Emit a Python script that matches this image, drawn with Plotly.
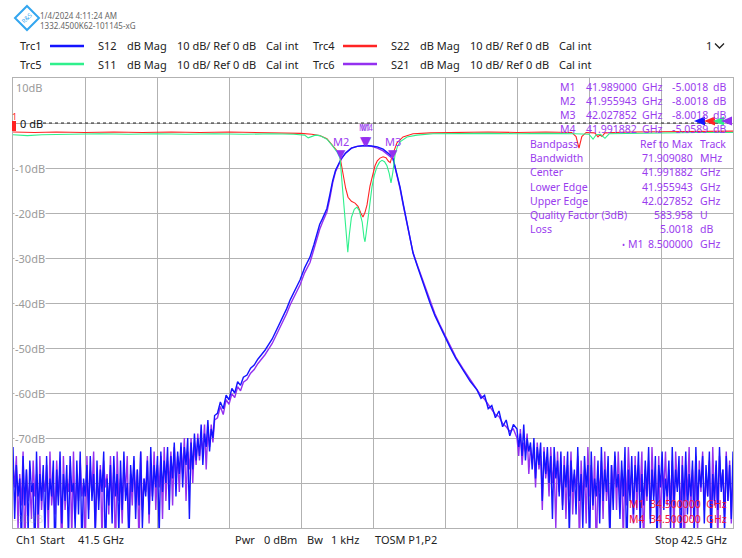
import numpy as np
import plotly.graph_objects as go

# sweep 41.5 .. 42.5 GHz, 10 dB/div, ref 0 dB
f_start, f_stop = 41.5, 42.5
y_top, y_bottom = 10, -90
y_ticks = [10, -10, -20, -30, -40, -50, -60, -70, -90]

# noise floor sweep points (left / right of the filter)
f_noise_left = np.linspace(41.5, 41.78, 121)
f_noise_right = np.linspace(42.2, 42.5, 129)

# S12 (Trc1)
s12_noise_left = [
    -72, -88, -76, -83, -79, -94, -74, -85, -77, -91,
    -75, -82, -80, -96, -73, -87, -78, -84, -76, -92,
    -74, -86, -79, -83, -75, -98, -77, -85, -73, -89,
    -78, -84, -76, -93, -74, -82, -80, -90, -75, -87,
    -73, -95, -79, -83, -76, -88, -74, -84, -78, -92,
    -75, -86, -77, -82, -73, -97, -79, -85, -76, -89,
    -74, -83, -78, -91, -75, -86, -73, -84, -80, -94,
    -76, -82, -74, -88, -77, -85, -73, -90, -79, -83,
    -75, -87, -72, -84, -76, -81, -74, -92, -73, -82,
    -75, -80, -72, -86, -74, -79, -71, -83, -73, -78,
    -71, -81, -72, -76, -70, -88, -71, -77, -69, -75,
    -70, -74, -67, -76, -69, -72, -66, -73, -68, -70,
    -65,
]
f_skirt = [
    41.784, 41.788, 41.792, 41.796, 41.800, 41.804, 41.808, 41.812, 41.816, 41.820,
    41.825, 41.830, 41.835, 41.840, 41.845, 41.850, 41.860, 41.870, 41.880, 41.885,
    41.890, 41.8986, 41.905, 41.9125, 41.918, 41.9222, 41.926, 41.930, 41.936, 41.940,
    41.944, 41.948, 41.952, 41.956, 41.962, 41.970, 41.978, 41.989, 41.998, 42.006,
    42.014, 42.020, 42.025, 42.028, 42.032, 42.0375, 42.042, 42.0472, 42.051, 42.0556,
    42.062, 42.0681, 42.074, 42.0792, 42.086, 42.0931, 42.100, 42.1069, 42.115, 42.125,
    42.135, 42.1444, 42.150, 42.155, 42.160, 42.165, 42.170, 42.175, 42.180, 42.185,
    42.190, 42.195,
]
s12_skirt = [
    -64.5, -62.0, -63.5, -60.5, -61.5, -59.0, -60.0, -57.5, -58.3, -56.5,
    -56.0, -54.5, -53.8, -52.5, -51.6, -50.5, -48.0, -44.8, -41.3, -39.3,
    -37.8, -34.9, -32.2, -29.8, -27.0, -24.4, -22.5, -21.2, -19.0, -16.0,
    -12.8, -10.5, -9.0, -7.9, -6.7, -5.6, -5.2, -5.0, -5.1, -5.3,
    -5.8, -6.5, -7.2, -8.0, -10.5, -14.2, -18.0, -22.2, -25.5, -28.9,
    -32.0, -34.9, -37.6, -40.0, -42.8, -45.3, -47.6, -49.8, -52.3, -54.9,
    -57.4, -59.3, -61.2, -60.5, -63.5, -62.8, -65.5, -64.0, -67.5, -66.0,
    -69.5, -67.0,
]
s12_noise_right = [
    -68, -72, -69, -74, -67, -75, -70, -73, -71, -77,
    -70, -79, -72, -76, -71, -84, -73, -78, -72, -80,
    -74, -88, -72, -79, -75, -83, -73, -86, -76, -81,
    -73, -92, -75, -82, -77, -87, -72, -84, -78, -90,
    -74, -81, -76, -95, -73, -85, -79, -83, -75, -89,
    -72, -84, -77, -82, -74, -93, -76, -86, -73, -81,
    -78, -88, -75, -83, -72, -97, -77, -84, -74, -87,
    -76, -82, -73, -91, -78, -85, -75, -83, -72, -89,
    -77, -84, -74, -94, -76, -81, -73, -86, -79, -83,
    -75, -90, -72, -85, -77, -82, -74, -96, -76, -84,
    -73, -87, -78, -83, -75, -92, -72, -85, -77, -81,
    -74, -89, -76, -83, -73, -95, -78, -84, -75, -86,
    -72, -82, -77, -91, -74, -84, -76, -88, -73,
]

# S21 (Trc6)
s21_noise_left = [
    -76, -81, -74, -90, -78, -85, -73, -96, -77, -84,
    -80, -88, -75, -83, -78, -93, -74, -86, -79, -82,
    -76, -91, -73, -85, -80, -87, -75, -83, -77, -97,
    -74, -86, -79, -82, -76, -92, -73, -88, -78, -84,
    -75, -83, -80, -95, -74, -86, -77, -82, -73, -90,
    -79, -84, -76, -93, -75, -81, -78, -87, -74, -85,
    -77, -96, -73, -84, -79, -89, -76, -82, -74, -91,
    -78, -85, -75, -83, -77, -94, -73, -86, -79, -82,
    -74, -89, -77, -83, -73, -86, -76, -81, -74, -88,
    -72, -84, -75, -80, -73, -85, -72, -79, -74, -82,
    -72, -78, -70, -84, -73, -77, -70, -80, -71, -76,
    -69, -75, -70, -73, -67, -77, -68, -72, -67, -71,
    -66,
]
s21_skirt = [
    -65.5, -63.0, -64.8, -61.5, -62.5, -60.2, -61.0, -58.6, -59.5, -57.6,
    -57.0, -55.6, -54.8, -53.5, -52.6, -51.5, -49.0, -45.8, -42.4, -40.4,
    -38.9, -36.0, -33.3, -31.0, -28.0, -25.5, -23.6, -22.0, -19.8, -16.8,
    -13.3, -10.8, -9.2, -8.0, -6.6, -5.6, -5.2, -5.0, -5.2, -5.6,
    -6.2, -6.9, -7.5, -8.0, -10.8, -14.5, -18.3, -22.4, -25.6, -28.8,
    -31.8, -34.6, -37.3, -39.7, -42.4, -44.9, -47.2, -49.5, -52.0, -54.6,
    -57.0, -59.0, -60.6, -61.4, -62.6, -63.6, -64.8, -65.2, -66.8, -67.5,
    -68.5, -68.0,
]
s21_noise_right = [
    -70, -74, -68, -76, -71, -73, -69, -78, -72, -75,
    -73, -81, -71, -77, -74, -86, -72, -79, -75, -83,
    -72, -80, -76, -90, -73, -82, -77, -85, -74, -88,
    -76, -83, -73, -87, -78, -81, -74, -94, -75, -84,
    -77, -89, -72, -83, -76, -86, -74, -97, -78, -82,
    -75, -88, -73, -84, -79, -91, -76, -82, -74, -86,
    -73, -83, -77, -93, -75, -85, -72, -81, -78, -89,
    -74, -86, -76, -82, -73, -95, -77, -84, -75, -88,
    -72, -83, -78, -87, -74, -90, -76, -82, -73, -85,
    -77, -84, -75, -92, -73, -81, -78, -86, -74, -98,
    -76, -83, -72, -88, -77, -84, -74, -91, -75, -82,
    -73, -86, -78, -83, -75, -90, -72, -85, -76, -93,
    -74, -81, -77, -87, -73, -84, -75, -89, -76,
]

# S22 (Trc4)
f_s22 = [
    41.500, 41.530, 41.560, 41.600, 41.640, 41.680, 41.720, 41.760, 41.800, 41.840,
    41.880, 41.900, 41.915, 41.926, 41.936, 41.943, 41.950, 41.9542, 41.9583, 41.962,
    41.9653, 41.970, 41.975, 41.9792, 41.983, 41.9861, 41.989, 41.9917, 41.9958, 42.000,
    42.0028, 42.006, 42.0097, 42.014, 42.018, 42.0215, 42.024, 42.0264, 42.030, 42.0333,
    42.0417, 42.0556, 42.080, 42.120, 42.160, 42.200, 42.240, 42.276, 42.282, 42.2861,
    42.290, 42.296, 42.308, 42.3125, 42.315, 42.3181, 42.322, 42.360, 42.400, 42.440,
    42.500,
]
s22 = [
    -2.0, -2.1, -2.0, -2.1, -2.0, -2.1, -2.0, -2.1, -2.0, -2.1,
    -2.2, -2.3, -2.5, -2.8, -3.5, -4.8, -6.2, -7.6, -11.5, -14.5,
    -16.5, -17.4, -17.8, -18.5, -20.0, -20.9, -19.8, -18.2, -14.0, -11.0,
    -9.5, -8.4, -7.8, -7.5, -7.7, -8.5, -8.8, -7.4, -5.6, -4.4,
    -3.1, -2.4, -2.2, -2.1, -2.0, -2.1, -2.0, -2.1, -3.0, -5.6,
    -3.0, -2.1, -2.2, -3.1, -2.6, -3.0, -2.2, -2.0, -1.9, -1.9,
    -1.8,
]

# S11 (Trc5)
f_s11 = [
    41.500, 41.520, 41.540, 41.580, 41.620, 41.660, 41.700, 41.740, 41.780, 41.820,
    41.860, 41.890, 41.905, 41.910, 41.915, 41.920, 41.926, 41.936, 41.943, 41.950,
    41.9542, 41.9569, 41.960, 41.9625, 41.965, 41.967, 41.970, 41.974, 41.9778, 41.981,
    41.985, 41.9875, 41.9889, 41.9905, 41.9931, 41.996, 41.9986, 42.002, 42.0056, 42.009,
    42.0125, 42.016, 42.0194, 42.0225, 42.025, 42.0275, 42.0306, 42.034, 42.0375, 42.0472,
    42.0611, 42.0833, 42.120, 42.160, 42.200, 42.240, 42.280, 42.300, 42.3056, 42.310,
    42.316, 42.3222, 42.328, 42.360, 42.400, 42.450, 42.500,
]
s11 = [
    -2.6, -2.8, -2.6, -2.5, -2.4, -2.5, -2.4, -2.5, -2.4, -2.5,
    -2.4, -2.5, -2.7, -3.3, -3.0, -2.7, -2.8, -3.6, -4.9, -6.4,
    -7.8, -13.0, -19.5, -24.5, -28.7, -25.0, -21.0, -19.2, -18.7, -19.5,
    -22.0, -25.5, -26.4, -24.5, -20.8, -17.0, -14.2, -11.5, -9.7, -8.7,
    -8.3, -8.6, -9.5, -11.2, -13.3, -11.0, -7.0, -5.2, -4.2, -3.1,
    -2.7, -2.4, -2.3, -2.3, -2.4, -2.3, -2.4, -2.5, -3.6, -2.6,
    -2.5, -3.4, -2.4, -2.3, -2.2, -2.1, -2.1,
]

# markers on Trc6
marker_names = ["M1", "M2", "M3", "M4"]
marker_freq = [41.989000, 41.955943, 42.027852, 41.991882]
marker_db = [-5.0018, -8.0018, -8.0018, -5.0589]

bp_labels = ["Bandpass", "Bandwidth", "Center", "Lower Edge", "Upper Edge",
             "Quality Factor (3dB)", "Loss"]
bp_values = ["Ref to Max", "71.909080", "41.991882", "41.955943", "42.027852",
             "583.958", "5.0018"]
bp_units = ["Track", "MHz", "GHz", "GHz", "GHz", "U", "dB"]

# header legend
trc_names = ["Trc1", "Trc4", "Trc5", "Trc6"]
trc_params = ["S12", "S22", "S11", "S21"]

BLUE = "#1414ff"
RED = "#ff2424"
GREEN = "#2ff08c"
PURPLE = "#9430f0"
MTEXT = "#9a3cee"
GRID = "#b2b2b2"
FONT = "Noto Sans, Open Sans, sans-serif"
trc_colors = [BLUE, RED, GREEN, PURPLE]


def px(x):
    return (x - 13) / 720


def py(y):
    return (528 - y) / 450


annotations = []
shapes = []


def txt(x, y, s, color="#222222", size=11, anchor="left", **kw):
    annotations.append(dict(x=px(x), y=py(y), xref="paper", yref="paper", text=s,
                            showarrow=False, xanchor=anchor, yanchor="middle",
                            font=dict(family=FONT, size=size, color=color), **kw))


fig = go.Figure()

f_all = np.concatenate([f_noise_left, f_skirt, f_noise_right])
fig.add_trace(go.Scatter(x=f_all, y=s21_noise_left + s21_skirt + s21_noise_right,
                         mode="lines", line=dict(color=PURPLE, width=1.4)))
fig.add_trace(go.Scatter(x=f_all, y=s12_noise_left + s12_skirt + s12_noise_right,
                         mode="lines", line=dict(color=BLUE, width=1.4)))
fig.add_trace(go.Scatter(x=f_s22, y=s22, mode="lines", line=dict(color=RED, width=1.1)))
fig.add_trace(go.Scatter(x=f_s11, y=s11, mode="lines", line=dict(color=GREEN, width=1.1)))

# header
shapes.append(dict(type="path", xref="paper", yref="paper",
                   path=f"M {px(27)},{py(6)} L {px(39)},{py(18)} L {px(27)},{py(30)} L {px(15)},{py(18)} Z",
                   line=dict(color="#33a6ef", width=2)))
txt(27, 18, "R&S", "#33a6ef", 6, "center", textangle=-45)
txt(38, 15, "1/4/2024 4:11:24 AM", "#666666", 8)
txt(38, 26, "1332.4500K62-101145-xG", "#666666", 8)

rows = [(0, 20, 46), (1, 313, 46), (2, 20, 64), (3, 313, 64)]
for i, x0, y0 in rows:
    txt(x0 - 2, y0, trc_names[i])
    shapes.append(dict(type="line", xref="paper", yref="paper", x0=px(x0 + 30), x1=px(x0 + 64),
                       y0=py(y0), y1=py(y0), line=dict(color=trc_colors[i], width=2.5)))
    txt(x0 + 76, y0, trc_params[i])
    txt(x0 + 105, y0, "dB Mag")
    txt(x0 + 155, y0, "10 dB/ Ref 0 dB")
    txt(x0 + 244, y0, "Cal int")
txt(704, 46, "1")
shapes.append(dict(type="path", xref="paper", yref="paper",
                   path=f"M {px(715)},{py(43.5)} L {px(719.5)},{py(48)} L {px(724)},{py(43.5)}",
                   line=dict(color="#222222", width=1.3)))

# y labels
for v in y_ticks:
    if v == 10:
        annotations.append(dict(x=px(45), y=v, xref="paper", yref="y", text=f"{v}dB",
                                showarrow=False, xanchor="right", yanchor="top",
                                font=dict(family=FONT, size=11, color="#9a9a9a")))
    elif v == -90:
        annotations.append(dict(x=px(45), y=v, xref="paper", yref="y", text=f"{v}dB",
                                showarrow=False, xanchor="right", yanchor="bottom", opacity=0.3,
                                font=dict(family=FONT, size=11, color="#9a9a9a")))
    else:
        annotations.append(dict(x=px(46), y=v, xref="paper", yref="y", text=f"{v}dB",
                                showarrow=False, xanchor="right", yanchor="middle",
                                bgcolor="white", borderpad=0,
                                font=dict(family=FONT, size=11, color="#9a9a9a")))

# reference line
shapes.append(dict(type="line", xref="paper", yref="y", x0=px(43), x1=1, y0=0, y1=0,
                   line=dict(color="#222222", width=1, dash="3px,3px")))
annotations.append(dict(x=px(18), y=0, xref="paper", yref="y", text="0 dB", showarrow=False,
                        xanchor="left", yanchor="middle", font=dict(family=FONT, size=11, color="#111111")))
shapes.append(dict(type="rect", xref="paper", yref="paper", x0=px(12), x1=px(16), y0=py(131), y1=py(121),
                   fillcolor=RED, line=dict(width=0)))
txt(14, 116, "1", RED, 9, "center")
for xc, c in [(700, BLUE), (710, RED), (719, GREEN), (727, PURPLE)]:
    shapes.append(dict(type="path", xref="paper", yref="paper",
                       path=f"M {px(xc - 6)},{py(121)} L {px(xc + 5)},{py(116.5)} L {px(xc + 5)},{py(125.5)} Z",
                       fillcolor=c, line=dict(width=0)))

# marker triangles + labels
for name, fm, dm in zip(marker_names, marker_freq, marker_db):
    annotations.append(dict(x=fm, y=dm, xref="x", yref="y", text="▼", showarrow=False,
                            xanchor="center", yanchor="bottom", yshift=-4,
                            font=dict(family="DejaVu Sans", size=12, color=PURPLE)))
    if name in ("M2", "M3"):
        annotations.append(dict(x=fm, y=dm, xref="x", yref="y", text=name, showarrow=False,
                                xanchor="center", yanchor="bottom", yshift=8,
                                font=dict(family=FONT, size=11, color=MTEXT)))
    else:
        annotations.append(dict(x=fm, y=dm, xref="x", yref="y", text=name, showarrow=False,
                                xanchor="center", yanchor="bottom", yshift=11,
                                font=dict(family=FONT, size=8, color=MTEXT)))

# marker table
TS = 10.5
for k, (name, fm, dm) in enumerate(zip(marker_names, marker_freq, marker_db)):
    yy = 87 + 14 * k
    txt(558, yy, name, MTEXT, TS)
    txt(639, yy, f"{fm:.6f}", MTEXT, TS, anchor="right")
    txt(640, yy, "GHz", MTEXT, TS)
    txt(710, yy, f"{dm:.4f}", MTEXT, TS, anchor="right")
    txt(711, yy, "dB", MTEXT, TS)
for k, (lab, val, unit) in enumerate(zip(bp_labels, bp_values, bp_units)):
    yy = 144 + 14.2 * k
    txt(528, yy, lab, MTEXT, TS)
    txt(695, yy, val, MTEXT, TS, anchor="right")
    txt(698, yy, unit, MTEXT, TS)
txt(620, 244, "•", MTEXT, 8)
txt(626, 244, "M1", MTEXT, TS)
txt(695, 244, f"{8.5:.6f}", MTEXT, TS, anchor="right")
txt(698, 244, "GHz", MTEXT, TS)

# bottom-right marker stimulus
txt(729, 504, "M1  34.500000  GHz", "#f0143c", TS, anchor="right")
txt(729, 519, "M4  34.500000  GHz", "#f0143c", TS, anchor="right")

# footer
txt(14, 539, "Ch1")
txt(38, 539, "Start")
txt(76, 539, f"{f_start} GHz")
txt(233, 539, "Pwr")
txt(262, 539, "0 dBm")
txt(305, 539, "Bw")
txt(329, 539, "1 kHz")
txt(373, 539, "TOSM P1,P2")
txt(653, 539, "Stop")
txt(729, 539, f"{f_stop} GHz", anchor="right")

fig.update_layout(
    width=742, height=558,
    margin=dict(l=13, r=9, t=78, b=30),
    paper_bgcolor="white", plot_bgcolor="white",
    showlegend=False,
    annotations=annotations, shapes=shapes,
    xaxis=dict(range=[f_start, f_stop], dtick=0.1, tick0=41.5, showticklabels=False, ticks="",
               showgrid=True, gridcolor=GRID, gridwidth=1.3, zeroline=False,
               showline=True, linecolor=GRID, linewidth=1.3, mirror=True),
    yaxis=dict(range=[y_bottom, y_top], dtick=10, tick0=0, showticklabels=False, ticks="",
               showgrid=True, gridcolor=GRID, gridwidth=1.3, zeroline=False,
               showline=True, linecolor=GRID, linewidth=1.3, mirror=True),
)

fig.write_html("out.html", config={"displayModeBar": False},
               post_script="document.body.style.margin='0';")
